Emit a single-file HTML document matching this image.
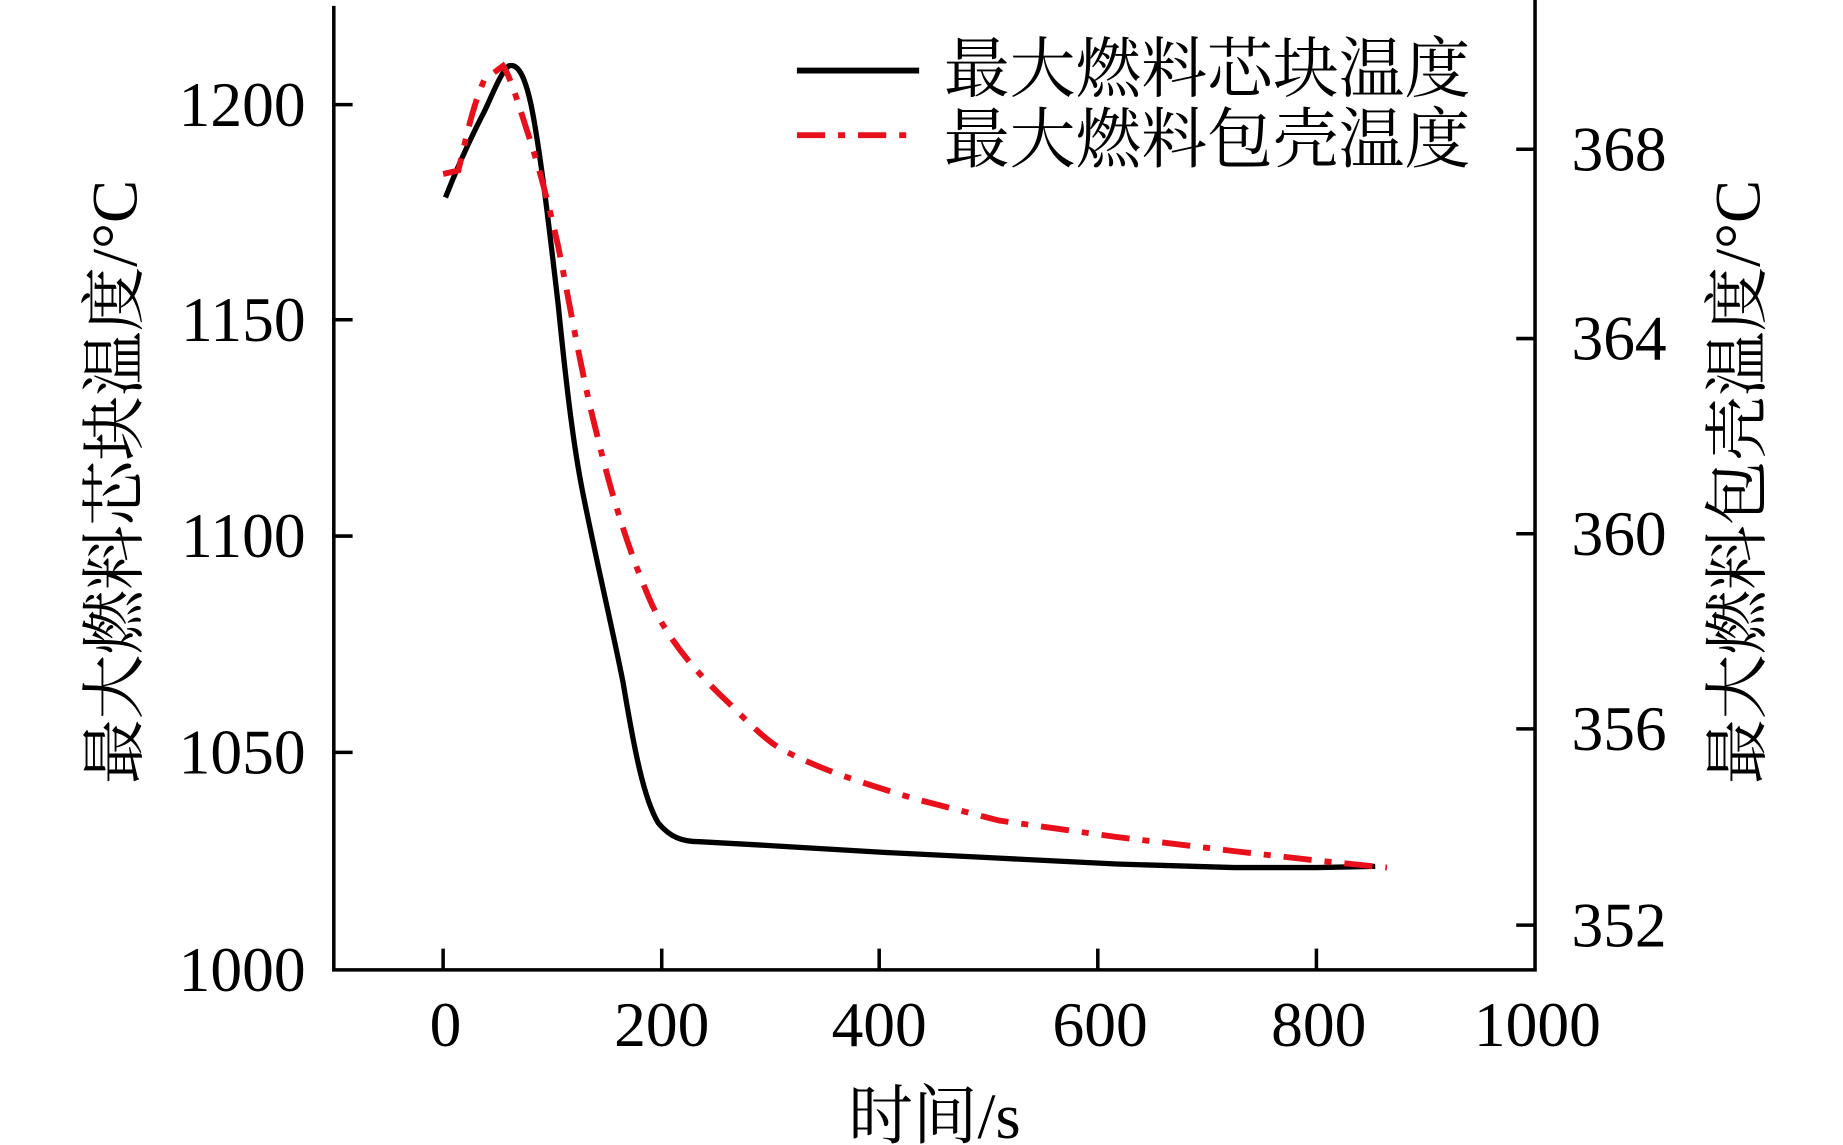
<!DOCTYPE html>
<html><head><meta charset="utf-8"><style>html,body{margin:0;padding:0;background:#fff}svg{display:block}</style></head>
<body>
<svg width="1843" height="1145" viewBox="0 0 1568 974" preserveAspectRatio="none" xmlns="http://www.w3.org/2000/svg">
<rect width="1568" height="974" fill="#fff"/>
<g stroke="#000" stroke-width="3" fill="none">
<path d="M284,5 V825 H1306 V0"/>
<path d="M284,89 h16 M284,272 h16 M284,456 h16 M284,640 h16"/>
<path d="M377,825 v-18 M563,825 v-18 M748,825 v-18 M934,825 v-18 M1120,825 v-18"/>
<path d="M1306,127 h-16 M1306,288 h-16 M1306,454 h-16 M1306,620 h-16 M1306,787 h-16"/>
</g>
<g font-family="Liberation Serif, serif" font-size="54" fill="#000">
<g text-anchor="end">
<text x="260" y="107">1200</text><text x="260" y="290">1150</text><text x="260" y="474">1100</text><text x="260" y="658">1050</text><text x="260" y="843">1000</text>
</g>
<g text-anchor="start">
<text x="1337" y="145">368</text><text x="1337" y="306">364</text><text x="1337" y="472">360</text><text x="1337" y="638">356</text><text x="1337" y="805">352</text>
</g>
<g text-anchor="middle">
<text x="379" y="890">0</text><text x="563" y="890">200</text><text x="748" y="890">400</text><text x="936" y="890">600</text><text x="1122" y="890">800</text><text x="1308" y="890">1000</text>
</g>
</g>
<g font-family="Liberation Serif, 'Noto Serif CJK SC', serif" font-size="55" fill="#000">
<text x="795" y="968" text-anchor="middle">时间/s</text>
<text transform="translate(116,410) rotate(-90)" text-anchor="middle">最大燃料芯块温度/°C</text>
<text transform="translate(1497,410) rotate(-90)" text-anchor="middle">最大燃料包壳温度/°C</text>
</g>
<g font-family="Liberation Serif, 'Noto Serif CJK SC', serif" font-size="56" fill="#000">
<text x="803" y="78">最大燃料芯块温度</text>
<text x="803" y="138">最大燃料包壳温度</text>
</g>
<line x1="678" y1="60" x2="782" y2="60" stroke="#000" stroke-width="5"/>
<line x1="678" y1="115" x2="782" y2="115" stroke="#e8101a" stroke-width="5" stroke-dasharray="24,11,6,11"/>
<path d="M379,168 C390,140 400,118 412,95 C420,78 427,60 433,56 C440,54 446,62 452,90 C460,130 468,200 475,260 C482,330 488,380 496,420 C508,480 520,530 530,580 C540,640 548,680 560,700 C570,712 580,716 595,716 L650,719 L750,725 L850,730 L950,735 L1050,738 L1120,738 L1170,737" fill="none" stroke="#000" stroke-width="4.5"/>
<path d="M377,148 L390,145 C396,120 402,90 412,68 L428,56 C434,65 440,85 448,110 C458,140 466,170 475,210 C485,260 495,320 508,370 C520,420 535,470 555,515 C570,545 590,570 620,598 C640,618 655,633 670,640 C700,655 730,665 780,680 L850,698 L950,712 L1050,724 L1120,732 L1180,738" fill="none" stroke="#e8101a" stroke-width="5" stroke-dasharray="24,11,6,11"/>
</svg>
</body></html>
